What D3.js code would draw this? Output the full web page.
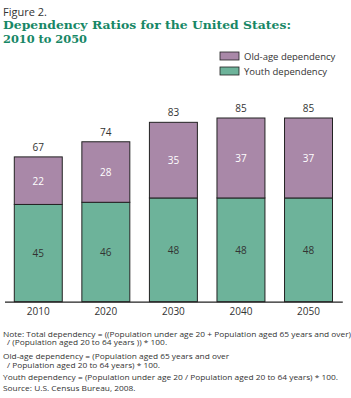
<!DOCTYPE html>
<html><head><meta charset="utf-8">
<script src="https://cdn.jsdelivr.net/npm/d3@7"></script>
<style>body{margin:0;background:#fff}svg{display:block}</style>
</head><body>
<svg id="c" width="351" height="398"></svg>
<script>
const years = ["2010","2020","2030","2040","2050"];
const youth = [45,46,48,48,48];
const oldAge = [22,28,35,37,37];
const total = [67,74,83,85,85];
const seriesNames = ["Old-age dependency","Youth dependency"];
const noteLines = [
  "Note: Total dependency = ((Population under age 20 + Population aged 65 years and over)",
  "/ (Population aged 20 to 64 years )) * 100.",
  "Old-age dependency = (Population aged 65 years and over",
  "/ Population aged 20 to 64 years) * 100.",
  "Youth dependency = (Population under age 20 / Population aged 20 to 64 years) * 100.",
  "Source: U.S. Census Bureau, 2008."
];

const svg = d3.select("#c");
const colOld = "#a988a8", colYouth = "#6db39a", stroke = "#222";
const sans = "'Open Sans', 'Noto Sans', sans-serif";

svg.append("text").attr("x",3).attr("y",16).attr("font-family",sans).attr("font-size",11)
  .attr("fill","#333").text("Figure 2.");
svg.append("text").attr("x",3).attr("y",28.5).attr("font-family","'DejaVu Serif', serif")
  .attr("font-weight","bold").attr("font-size",11.5).attr("fill","#178766")
  .attr("textLength",288).attr("lengthAdjust","spacingAndGlyphs")
  .text("Dependency Ratios for the United States:");
svg.append("text").attr("x",3).attr("y",42.5).attr("font-family","'DejaVu Serif', serif")
  .attr("font-weight","bold").attr("font-size",11.5).attr("fill","#178766")
  .attr("textLength",84).attr("lengthAdjust","spacingAndGlyphs")
  .text("2010 to 2050");

// legend
const leg = svg.append("g");
[colOld,colYouth].forEach((c,i)=>{
  leg.append("rect").attr("x",220).attr("y",52+i*15).attr("width",19).attr("height",8)
    .attr("fill",c).attr("stroke",stroke).attr("stroke-width",0.8);
  leg.append("text").attr("x",244).attr("y",59.5+i*15).attr("font-family",sans)
    .attr("font-size",9.5).attr("fill","#333").text(seriesNames[i]);
});

const x = d3.scaleBand().domain(years).range([4.5,342.3]).paddingInner(0.29).paddingOuter(0.145);
const y = d3.scaleLinear().domain([0,85]).range([301.7,118]);

const g = svg.append("g");
years.forEach((yr,i)=>{
  const bx = x(yr), bw = x.bandwidth();
  g.append("rect").attr("x",bx).attr("y",y(youth[i])).attr("width",bw)
    .attr("height",y(0)-y(youth[i])).attr("fill",colYouth).attr("stroke",stroke).attr("stroke-width",1);
  g.append("rect").attr("x",bx).attr("y",y(total[i])).attr("width",bw)
    .attr("height",y(youth[i])-y(total[i])).attr("fill",colOld).attr("stroke",stroke).attr("stroke-width",1);
  const cx = bx+bw/2;
  g.append("text").attr("x",cx).attr("y",(y(0)+y(youth[i]))/2+4).attr("text-anchor","middle")
    .attr("font-family",sans).attr("font-size",10).attr("fill","#333").text(youth[i]);
  g.append("text").attr("x",cx).attr("y",(y(youth[i])+y(total[i]))/2+4).attr("text-anchor","middle")
    .attr("font-family",sans).attr("font-size",10).attr("fill","#fff").text(oldAge[i]);
  g.append("text").attr("x",cx).attr("y",y(total[i])-6).attr("text-anchor","middle")
    .attr("font-family",sans).attr("font-size",10).attr("fill","#333").text(total[i]);
});

const ax = svg.append("g").attr("transform","translate(0,301.7)")
  .call(d3.axisBottom(x).tickSize(0).tickPadding(6));
ax.select(".domain").attr("stroke",stroke).attr("stroke-width",1.2);
ax.selectAll("text").attr("font-family",sans).attr("font-size",10).attr("fill","#333");

const notesY = [336.5,345.2,359.3,368.2,380,390.5];
const notesX = [3,7,3,7,3,3];
const notes = noteLines.map((t,i)=> svg.append("text").attr("x",notesX[i]).attr("y",notesY[i])
    .attr("font-family",sans).attr("font-size",7.8).attr("fill","#333").text(t));
const k = 335 / notes[4].node().getComputedTextLength();
notes.forEach(n=>{
  const L = n.node().getComputedTextLength();
  n.attr("textLength", L*k).attr("lengthAdjust","spacingAndGlyphs");
});
</script>
</body></html>
